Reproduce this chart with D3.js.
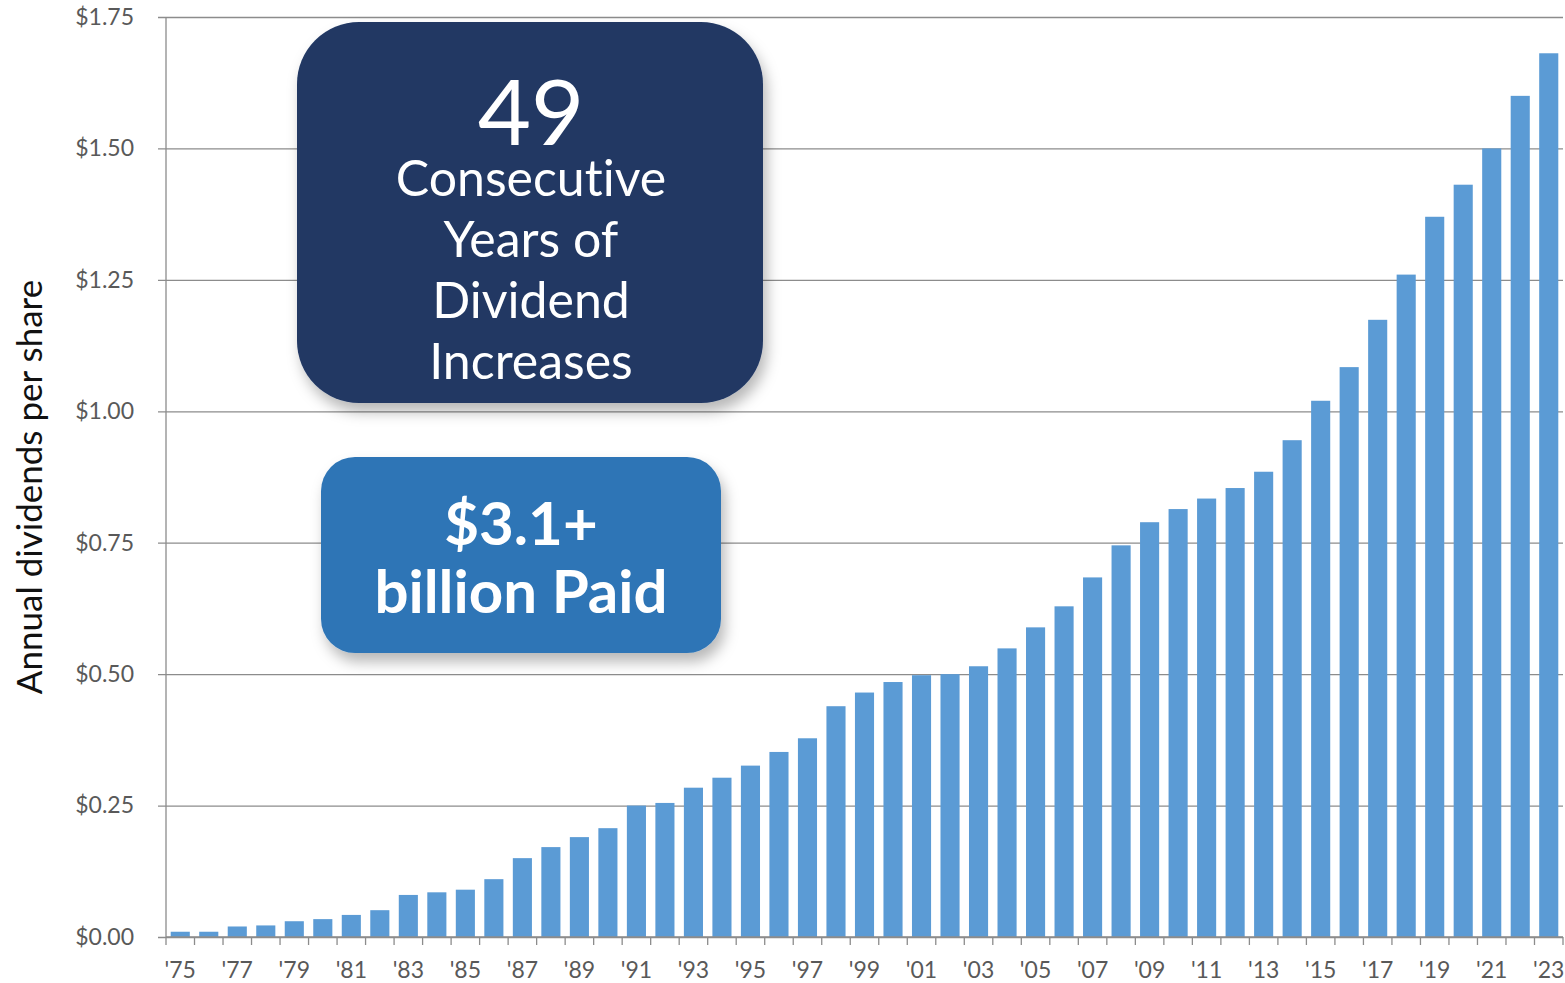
<!DOCTYPE html>
<html>
<head>
<meta charset="utf-8">
<script src="https://cdn.jsdelivr.net/npm/d3@7"></script>
<style>
  html, body { margin: 0; padding: 0; background: #fff; }
  svg { display: block; }
  svg text { font-variant-ligatures: none; font-feature-settings: "liga" 0, "clig" 0; }
</style>
</head>
<body>
<svg id="chart" width="1565" height="983"></svg>
<script>
// Fiscal years shown on the x axis
const years = [1975, 1976, 1977, 1978, 1979, 1980, 1981, 1982, 1983, 1984,
  1985, 1986, 1987, 1988, 1989, 1990, 1991, 1992, 1993, 1994,
  1995, 1996, 1997, 1998, 1999, 2000, 2001, 2002, 2003, 2004,
  2005, 2006, 2007, 2008, 2009, 2010, 2011, 2012, 2013, 2014,
  2015, 2016, 2017, 2018, 2019, 2020, 2021, 2022, 2023];

// Annual dividends per share ($)
const dividends = [0.010, 0.010, 0.020, 0.022, 0.030, 0.034, 0.042, 0.051, 0.080, 0.085,
  0.090, 0.110, 0.150, 0.171, 0.190, 0.207, 0.250, 0.255, 0.284, 0.303,
  0.326, 0.352, 0.378, 0.439, 0.465, 0.485, 0.498, 0.500, 0.515, 0.549,
  0.589, 0.629, 0.684, 0.745, 0.789, 0.814, 0.834, 0.854, 0.885, 0.945,
  1.020, 1.084, 1.174, 1.260, 1.370, 1.431, 1.500, 1.600, 1.681];

// Y axis tick values
const yTicks = [0, 0.25, 0.5, 0.75, 1.0, 1.25, 1.5, 1.75];

// Callout texts
const streakLines = ["Consecutive", "Years of", "Dividend", "Increases"];
const streakNumber = "49";
const paidLines = ["$3.1+", "billion Paid"];

const FONT = "Lato, 'Open Sans', sans-serif";
const svg = d3.select("#chart");
const margin = { left: 166, right: 2, top: 17, bottom: 46 };
const W = 1565, H = 983;

const x = d3.scaleBand()
  .domain(years)
  .range([margin.left, W - margin.right])
  .paddingInner(0.33)
  .paddingOuter(0.165);

const y = d3.scaleLinear()
  .domain([0, 1.75])
  .range([H - margin.bottom, margin.top]);

const defs = svg.append("defs");
const shadow = defs.append("filter")
  .attr("id", "shadow")
  .attr("x", "-20%").attr("y", "-20%")
  .attr("width", "140%").attr("height", "150%");
shadow.append("feDropShadow")
  .attr("dx", 4).attr("dy", 9)
  .attr("stdDeviation", 7)
  .attr("flood-color", "#000")
  .attr("flood-opacity", 0.28);

// Horizontal gridlines with short left ticks
const yAxis = d3.axisLeft(y)
  .tickValues(yTicks)
  .tickSize(-(W - margin.right - margin.left + 8))
  .tickFormat(d => "$" + d.toFixed(2));

const gy = svg.append("g")
  .attr("transform", `translate(${margin.left - 8},0)`)
  .call(yAxis);
gy.select(".domain").remove();
gy.selectAll(".tick line")
  .attr("stroke", "#8c8c8c")
  .attr("stroke-width", 1.3);
gy.selectAll(".tick text")
  .attr("x", -24)
  .attr("fill", "#595959")
  .attr("font-family", FONT)
  .attr("font-size", 23);

// Bars
svg.append("g")
  .selectAll("rect")
  .data(years)
  .join("rect")
  .attr("x", (d) => x(d))
  .attr("width", x.bandwidth())
  .attr("y", (d, i) => y(dividends[i]))
  .attr("height", (d, i) => y(0) - y(dividends[i]))
  .attr("fill", "#5b9bd5");

// Vertical axis line
svg.append("line")
  .attr("x1", margin.left).attr("x2", margin.left)
  .attr("y1", y(1.75)).attr("y2", y(0))
  .attr("stroke", "#8c8c8c").attr("stroke-width", 1.3);

// Category axis with boundary ticks
const step = x.step();
const boundaries = years.map(d => x(d) - (step - x.bandwidth()) / 2).concat([W - margin.right]);
const gx = svg.append("g");
gx.append("line")
  .attr("x1", margin.left).attr("x2", W - margin.right)
  .attr("y1", y(0)).attr("y2", y(0))
  .attr("stroke", "#8c8c8c").attr("stroke-width", 1.3);
gx.selectAll(".btick")
  .data(boundaries)
  .join("line")
  .attr("class", "btick")
  .attr("x1", d => d).attr("x2", d => d)
  .attr("y1", y(0)).attr("y2", y(0) + 8)
  .attr("stroke", "#8c8c8c").attr("stroke-width", 1.3);
gx.selectAll("text")
  .data(years.filter(d => d % 2 === 1))
  .join("text")
  .attr("x", d => x(d) + x.bandwidth() / 2)
  .attr("y", y(0) + 41)
  .attr("text-anchor", "middle")
  .attr("fill", "#595959")
  .attr("font-family", FONT)
  .attr("font-size", 23)
  .text(d => "'" + String(d).slice(2));

// Y axis title
svg.append("text")
  .attr("transform", `translate(42,${(y(0) + y(1.75)) / 2 + 10}) rotate(-90)`)
  .attr("text-anchor", "middle")
  .attr("fill", "#111")
  .attr("font-family", FONT)
  .attr("font-size", 35)
  .text("Annual dividends per share");

// Callout: consecutive years of increases
const c1 = svg.append("g");
c1.append("rect")
  .attr("x", 297).attr("y", 22)
  .attr("width", 466).attr("height", 381)
  .attr("rx", 62).attr("ry", 62)
  .attr("fill", "#213864")
  .attr("filter", "url(#shadow)");
c1.append("text")
  .attr("x", 531).attr("y", 145)
  .attr("text-anchor", "middle")
  .attr("fill", "#fff")
  .attr("font-family", FONT)
  .attr("font-size", 92)
  .text(streakNumber);
c1.selectAll(".ln")
  .data(streakLines)
  .join("text")
  .attr("class", "ln")
  .attr("x", 531)
  .attr("y", (d, i) => 196 + i * 61)
  .attr("text-anchor", "middle")
  .attr("fill", "#fff")
  .attr("font-family", FONT)
  .attr("font-size", 50)
  .text(d => d);

// Callout: total paid
const c2 = svg.append("g");
c2.append("rect")
  .attr("x", 321).attr("y", 457)
  .attr("width", 400).attr("height", 196)
  .attr("rx", 34).attr("ry", 34)
  .attr("fill", "#2e75b6")
  .attr("filter", "url(#shadow)");
c2.selectAll(".ln")
  .data(paidLines)
  .join("text")
  .attr("class", "ln")
  .attr("x", 521)
  .attr("y", (d, i) => 545 + i * 68)
  .attr("text-anchor", "middle")
  .attr("fill", "#fff")
  .attr("font-family", FONT)
  .attr("font-weight", "bold")
  .attr("font-size", 60)
  .text(d => d);
</script>
</body>
</html>
